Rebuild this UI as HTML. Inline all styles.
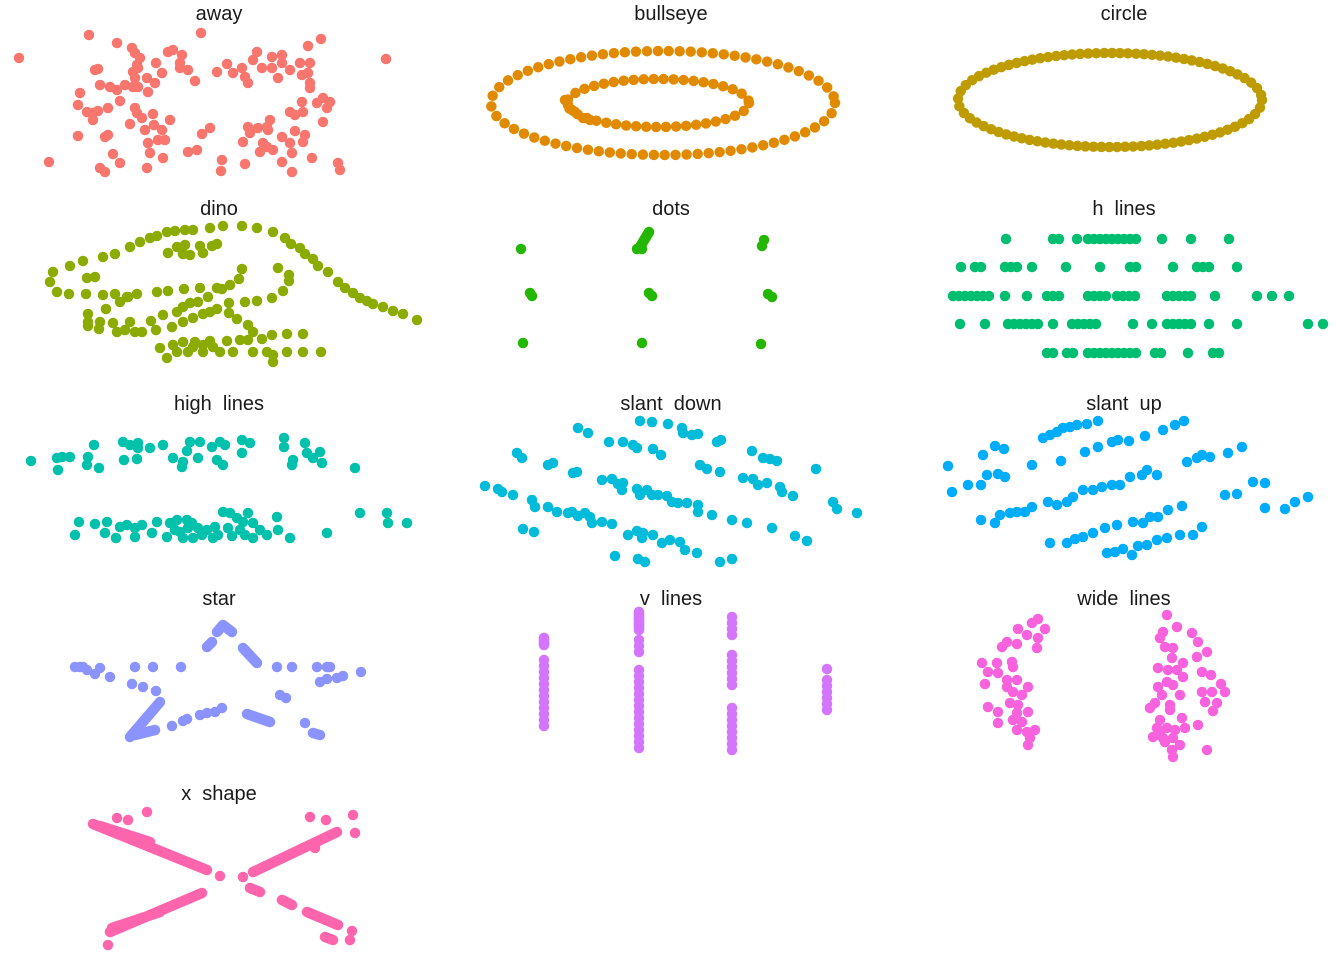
<!DOCTYPE html>
<html><head><meta charset="utf-8"><style>
html,body{margin:0;padding:0;background:#fff;}
svg{display:block;}
text{font-family:"Liberation Sans",Arial,sans-serif;font-size:20px;fill:#1a1a1a;text-anchor:middle;}
path{fill:none;stroke-linecap:round;stroke-linejoin:round;}
.d{stroke-width:10.5;}
.l{stroke-width:10.5;stroke-dasharray:0 6;}
</style></head><body>
<svg width="1344" height="960" viewBox="0 0 1344 960">
<text x="219" y="20">away</text>
<text x="671" y="20">bullseye</text>
<text x="1124" y="20">circle</text>
<text x="219" y="215">dino</text>
<text x="671" y="215">dots</text>
<text x="1124" y="215">h&#160;&#160;lines</text>
<text x="219" y="410">high&#160;&#160;lines</text>
<text x="671" y="410">slant&#160;&#160;down</text>
<text x="1124" y="410">slant&#160;&#160;up</text>
<text x="219" y="605">star</text>
<text x="671" y="605">v&#160;&#160;lines</text>
<text x="1124" y="605">wide&#160;&#160;lines</text>
<text x="219" y="800">x&#160;&#160;shape</text>

<!-- away -->
<path class="d" stroke="#F8766D" d="M89 35h0M201 33h0M117 43h0M321 39h0M308 46h0M19 58h0M386 59h0M132 48h0M135 53h0M140 58h0M137 65h0M133 72h0M138 68h0M168 52h0M173 50h0M182 55h0M180 63h0M180 68h0M188 70h0M156 63h0M162 73h0M95 70h0M98 69h0M135 78h0M147 78h0M155 83h0M148 92h0M100 85h0M110 87h0M117 90h0M125 85h0M133 87h0M138 87h0M120 101h0M195 81h0M217 72h0M227 64h0M233 73h0M242 68h0M245 77h0M248 83h0M257 52h0M253 60h0M262 68h0M272 68h0M272 57h0M282 55h0M282 63h0M290 70h0M278 78h0M300 63h0M302 75h0M310 63h0M308 73h0M310 83h0M310 88h0M80 93h0M78 105h0M87 112h0M93 113h0M93 120h0M98 111h0M108 108h0M135 108h0M137 113h0M142 118h0M153 114h0M130 124h0M145 130h0M154 125h0M162 130h0M158 140h0M165 140h0M148 143h0M150 153h0M163 158h0M170 120h0M147 168h0M78 136h0M105 137h0M108 135h0M113 154h0M120 163h0M100 168h0M105 172h0M49 162h0M202 134h0M210 128h0M188 152h0M197 150h0M222 160h0M221 171h0M245 164h0M248 127h0M243 142h0M250 133h0M258 128h0M267 127h0M270 120h0M268 130h0M263 143h0M260 152h0M267 147h0M273 150h0M282 137h0M290 143h0M292 153h0M282 162h0M292 172h0M295 131h0M305 135h0M303 142h0M312 158h0M290 112h0M295 115h0M302 102h0M303 112h0M317 103h0M323 98h0M330 102h0M327 108h0M323 122h0M338 163h0M340 170h0"/>

<!-- bullseye -->
<ellipse cx="663" cy="103" rx="172" ry="52" fill="none" stroke="#E18A00" stroke-width="10.5" stroke-linecap="round" stroke-dasharray="0 11"/>
<ellipse cx="658" cy="103" rx="91" ry="24" fill="none" stroke="#E18A00" stroke-width="10.5" stroke-linecap="round" stroke-dasharray="0 10"/>
<path class="d" stroke="#E18A00" d="M568 105h0M572 110h0M575 112h0M565 100h0M583 118h0M590 120h0"/>

<!-- circle -->
<ellipse cx="1110" cy="100" rx="152" ry="47" fill="none" stroke="#BE9C00" stroke-width="10.5" stroke-linecap="round" stroke-dasharray="0 8"/>

<!-- dino -->
<path class="d" stroke="#8CAB00" d="M53 272h0M70 266h0M83 261h0M103 257h0M115 254h0M130 247h0M140 242h0M150 238h0M157 236h0M167 232h0M175 231h0M185 230h0M193 230h0M210 228h0M223 226h0M242 226h0M257 228h0M273 232h0M285 238h0M291 244h0M300 248h0M305 254h0M313 259h0M318 266h0M328 272h0M338 282h0M345 288h0M353 293h0M360 298h0M367 301h0M373 304h0M383 307h0M393 311h0M403 314h0M417 320h0M50 282h0M57 292h0M69 294h0M86 294h0M103 295h0M115 294h0M128 297h0M137 294h0M157 292h0M168 291h0M184 289h0M200 288h0M217 288h0M222 289h0M230 285h0M239 279h0M242 269h0M168 253h0M177 247h0M185 245h0M183 254h0M190 255h0M200 246h0M203 253h0M212 246h0M217 244h0M87 278h0M95 277h0M278 268h0M289 275h0M289 281h0M283 291h0M272 298h0M257 301h0M245 302h0M229 303h0M229 313h0M120 302h0M127 297h0M106 309h0M177 312h0M183 307h0M190 303h0M198 302h0M208 297h0M163 315h0M151 321h0M172 327h0M183 322h0M193 318h0M203 314h0M210 312h0M217 309h0M88 314h0M88 322h0M88 326h0M100 322h0M99 329h0M113 323h0M117 332h0M125 330h0M130 322h0M135 332h0M142 332h0M156 330h0M237 319h0M248 325h0M253 332h0M240 340h0M248 340h0M262 339h0M272 335h0M287 334h0M303 334h0M160 348h0M167 358h0M173 345h0M177 352h0M183 342h0M188 352h0M193 347h0M195 342h0M203 345h0M203 352h0M210 341h0M213 347h0M220 352h0M227 341h0M233 352h0M253 352h0M267 352h0M273 355h0M273 362h0M287 352h0M303 352h0M321 352h0"/>

<!-- dots -->
<path class="d" stroke="#24B700" d="M521 249h0M640 247L649 232M637 249h0M642 249h0M762 246h0M764 240h0M530 293h0M532 296h0M649 293h0M652 296h0M768 294h0M772 297h0M523 343h0M642 343h0M761 344h0"/>

<!-- h lines -->
<path class="l" stroke="#00BE70" d="M1053 239H1060M1088 239H1138M975 267H982M1005 267H1018M1130 267H1140M1173 267H1177M1197 267H1210M953 296H992M1027 296H1033M1047 296H1065M1088 296H1107M1117 296H1137M1167 296H1192M1215 296H1220M1272 296H1278M1008 324H1040M1072 324H1100M1167 324H1193M1047 353H1057M1067 353H1075M1088 353H1138M1155 353H1165M1213 353H1223"/>
<path class="d" stroke="#00BE70" d="M1006 239h0M1077 239h0M1162 239h0M1191 239h0M1229 239h0M961 267h0M1032 267h0M1066 267h0M1100 267h0M1237 267h0M1005 296h0M1257 296h0M1289 296h0M960 324h0M985 324h0M1053 324h0M1133 324h0M1152 324h0M1209 324h0M1237 324h0M1308 324h0M1323 324h0M1188 353h0"/>

<!-- high lines -->
<path class="d" stroke="#00C1AB" d="M31 461h0M57 458h0M62 457h0M70 457h0M58 470h0M94 445h0M88 457h0M87 465h0M99 468h0M123 442h0M130 445h0M138 443h0M138 448h0M124 460h0M137 459h0M150 448h0M163 445h0M173 458h0M183 462h0M182 467h0M187 451h0M190 442h0M200 442h0M198 458h0M212 447h0M220 442h0M225 445h0M217 460h0M223 465h0M242 440h0M250 443h0M242 453h0M284 438h0M284 447h0M293 460h0M292 465h0M305 443h0M307 453h0M313 458h0M320 452h0M322 463h0M355 468h0M79 522h0M75 535h0M95 524h0M107 522h0M105 533h0M116 538h0M120 527h0M127 525h0M135 528h0M142 525h0M135 537h0M152 533h0M157 522h0M167 537h0M170 523h0M177 520h0M187 520h0M192 523h0M180 532h0M183 538h0M193 538h0M202 535h0M213 538h0M218 535h0M215 527h0M223 512h0M230 513h0M237 518h0M243 522h0M248 513h0M253 523h0M253 538h0M267 535h0M277 517h0M278 530h0M290 538h0M327 533h0M360 513h0M387 513h0M388 523h0M407 523h0M198 528h0M207 530h0M228 528h0M240 530h0M260 530h0M175 530h0M188 528h0M245 535h0M232 536h0"/>

<!-- slant down -->
<path class="d" stroke="#00BBDA" d="M578 428h0M588 433h0M609 442h0M623 442h0M633 445h0M637 448h0M653 449h0M661 455h0M700 465h0M707 469h0M720 472h0M743 478h0M753 479h0M758 485h0M767 483h0M780 487h0M782 492h0M793 496h0M833 502h0M837 509h0M857 513h0M640 421h0M652 422h0M668 424h0M682 428h0M683 433h0M692 435h0M698 434h0M717 442h0M721 440h0M752 451h0M763 458h0M770 459h0M777 461h0M816 469h0M517 453h0M522 458h0M548 465h0M553 463h0M573 473h0M577 472h0M602 480h0M612 479h0M618 484h0M623 483h0M622 490h0M637 489h0M640 495h0M647 490h0M652 495h0M658 495h0M667 496h0M672 502h0M678 503h0M687 503h0M698 505h0M698 512h0M712 515h0M732 520h0M747 523h0M772 528h0M795 536h0M807 541h0M485 486h0M498 489h0M502 492h0M513 495h0M532 500h0M535 507h0M548 507h0M557 512h0M568 513h0M572 512h0M578 516h0M585 513h0M590 517h0M592 523h0M602 522h0M612 524h0M523 529h0M534 532h0M628 535h0M637 531h0M642 538h0M643 533h0M653 535h0M662 543h0M670 540h0M680 542h0M685 550h0M697 553h0M615 556h0M638 559h0M645 562h0M720 562h0M732 559h0"/>

<!-- slant up -->
<path class="d" stroke="#00ACFC" d="M948 466h0M952 492h0M968 485h0M981 485h0M983 455h0M995 446h0M1004 449h0M987 475h0M998 474h0M1005 477h0M1032 465h0M1043 438h0M1057 432h0M1063 428h0M1077 425h0M1087 424h0M1098 421h0M1050 435h0M1070 427h0M1061 461h0M1085 452h0M1098 447h0M1112 442h0M1118 440h0M1129 441h0M1145 436h0M1163 430h0M1175 425h0M1184 421h0M981 520h0M995 523h0M1000 515h0M1010 513h0M1017 512h0M1025 512h0M1032 507h0M1048 502h0M1057 505h0M1067 502h0M1073 497h0M1083 490h0M1093 490h0M1102 487h0M1112 485h0M1120 485h0M1130 477h0M1142 475h0M1147 470h0M1157 475h0M1187 462h0M1197 458h0M1202 455h0M1210 457h0M1228 453h0M1242 447h0M1253 482h0M1265 483h0M1225 495h0M1237 494h0M1265 508h0M1285 509h0M1295 502h0M1308 497h0M1050 543h0M1067 543h0M1075 539h0M1083 537h0M1093 533h0M1105 528h0M1117 525h0M1133 522h0M1143 523h0M1150 517h0M1158 517h0M1168 510h0M1182 506h0M1107 553h0M1115 552h0M1123 549h0M1132 555h0M1138 546h0M1147 545h0M1157 540h0M1167 538h0M1180 535h0M1193 535h0M1202 527h0"/>

<!-- star -->
<path class="d" stroke="#8B93FF" d="M75 667h0M80 667h0M83 667h0M87 670h0M100 668h0M95 674h0M110 677h0M135 667h0M153 667h0M181 667h0M132 684h0M143 687h0M156 691h0M160 702L130 737M155 730L135 735M172 726h0M183 721h0M187 719h0M200 715h0M207 713h0M215 712h0M222 708h0M207 647L212 642M217 632L223 625L232 632M243 648L257 663M277 667h0M292 667h0M317 667h0M327 667h0M330 667h0M361 672h0M320 682h0M327 679h0M337 678h0M343 676h0M280 695h0M286 698h0M247 714L270 722M305 723h0M313 733L320 735"/>

<!-- v lines -->
<path class="l" stroke="#D575FE" d="M544 638V645M544 660V728M639 612V630M639 640V655M639 670V752M732 617V640M732 655V690M732 708V755M827 680V712"/>
<path class="d" stroke="#D575FE" d="M827 669h0M544 638V645M639 612V630"/>

<!-- wide lines -->
<path class="d" stroke="#F962DD" d="M1038 619h0M1032 623h0M1045 629h0M1018 629h0M1027 635h0M1038 638h0M1037 648h0M1007 642h0M1002 647h0M1017 644h0M982 663h0M997 663h0M988 672h0M998 673h0M1012 662h0M1013 667h0M985 684h0M1007 680h0M1017 680h0M1007 687h0M1028 687h0M1013 692h0M1022 695h0M988 707h0M998 712h0M1010 703h0M1018 705h0M1017 713h0M1028 712h0M1013 720h0M1022 722h0M998 723h0M1017 730h0M1027 732h0M1035 730h0M1030 738h0M1028 745h0M1167 615h0M1177 627h0M1163 632h0M1160 638h0M1165 647h0M1173 648h0M1172 658h0M1183 663h0M1158 668h0M1168 670h0M1177 670h0M1167 682h0M1183 677h0M1158 687h0M1173 685h0M1180 695h0M1162 695h0M1155 703h0M1150 708h0M1170 705h0M1170 710h0M1160 720h0M1182 718h0M1157 728h0M1167 728h0M1175 730h0M1185 728h0M1153 737h0M1163 738h0M1173 738h0M1180 745h0M1172 750h0M1173 757h0M1207 750h0M1198 725h0M1192 633h0M1198 642h0M1197 657h0M1207 652h0M1202 672h0M1211 675h0M1221 684h0M1225 692h0M1212 692h0M1202 692h0M1205 702h0M1217 703h0M1213 711h0M1165 742h0M1160 733h0"/>

<!-- x shape -->
<path class="d" stroke="#FF65AC" d="M93 824L207 870M100 826L150 842M117 818h0M128 820h0M147 812h0M220 876h0M110 932L202 893M112 928L160 912M108 945h0M243 877h0M253 872L337 832M310 817h0M326 820h0M353 815h0M355 833h0M315 848h0M250 888L260 892M282 900L292 905M307 912L338 925M352 931h0M325 937L333 940M350 940h0"/>
</svg>
</body></html>
